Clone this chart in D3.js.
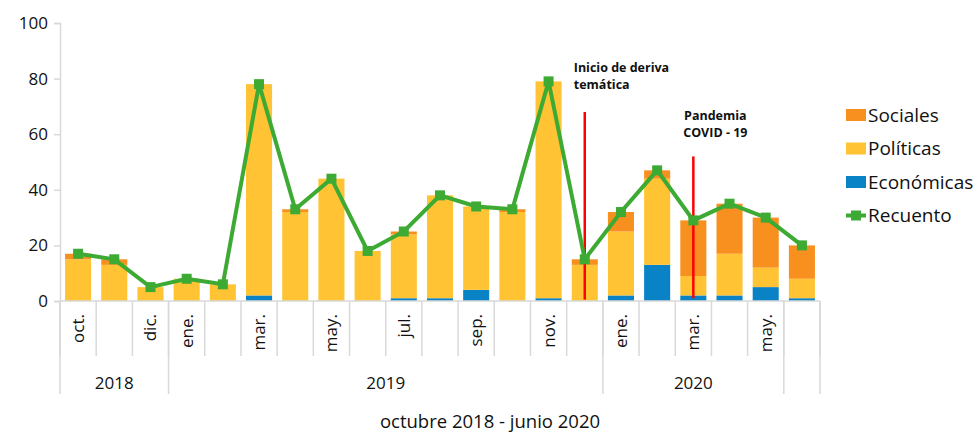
<!DOCTYPE html>
<html>
<head>
<meta charset="utf-8">
<script src="https://cdn.jsdelivr.net/npm/d3@7/dist/d3.min.js"></script>
<style>
  body { margin: 0; background: #fff; }
  svg { display: block; font-family: "Open Sans", "Noto Sans", sans-serif; }
</style>
</head>
<body>
<svg id="chart" width="980" height="432"></svg>
<script>
// ---- data ----
const categories = ["2018-10","2018-11","2018-12","2019-01","2019-02","2019-03","2019-04","2019-05","2019-06","2019-07","2019-08","2019-09","2019-10","2019-11","2019-12","2020-01","2020-02","2020-03","2020-04","2020-05","2020-06"];
const monthLabels = ["oct.","","dic.","ene.","","mar.","","may.","","jul.","","sep.","","nov.","","ene.","","mar.","","may.",""];
const yearLabels = ["2018","2019","2020",""];
const yearCounts = [3, 12, 5, 1];
const economicas = [0,0,0,0,0,2,0,0,0,1,1,4,0,1,0,2,13,2,2,5,1];
const politicas  = [15,13,5,8,6,76,32,44,18,23,37,30,32,78,13,23,31,7,15,7,7];
const sociales   = [2,2,0,0,0,0,1,0,0,1,0,0,1,0,2,7,3,20,18,18,12];
const recuento   = [17,15,5,8,6,78,33,44,18,25,38,34,33,79,15,32,47,29,35,30,20];
const yTicks = [0,20,40,60,80,100];
const seriesNames = ["Económicas","Políticas","Sociales"];
const annotations = [
  {cat: "2019-12", top: 68, bottom: 0.5, lines: ["Inicio de deriva","temática"]},
  {cat: "2020-03", top: 52, bottom: 1, lines: ["Pandemia","COVID - 19"]}
];

// ---- styles ----
const colors = {"Económicas":"#0A82C6","Políticas":"#FFC334","Sociales":"#F7901E"};
const green = "#3DAA34";
const gridGray = "#d9d9d9";

const svg = d3.select("#chart");
const x = d3.scaleBand().domain(categories).range([60, 820]).paddingInner(0.28).paddingOuter(0.14);
const y = d3.scaleLinear().domain([0, 100]).range([301, 23]);

// stacked bars
const rows = categories.map((c, i) => ({cat: c, "Económicas": economicas[i], "Políticas": politicas[i], "Sociales": sociales[i]}));
const stack = d3.stack().keys(seriesNames)(rows);
svg.append("g").selectAll("g").data(stack).join("g")
  .attr("fill", d => colors[d.key])
  .selectAll("rect").data(d => d.filter(p => p[1] - p[0] > 0)).join("rect")
  .attr("x", d => x(d.data.cat))
  .attr("width", x.bandwidth())
  .attr("y", d => y(d[1]))
  .attr("height", d => y(d[0]) - y(d[1]));

// y axis
const yAxis = svg.append("g").attr("transform", "translate(60,0)")
  .call(d3.axisLeft(y).tickValues(yTicks).tickSize(6).tickPadding(6).tickFormat(d3.format("d")));
yAxis.select(".domain").attr("stroke", gridGray).attr("stroke-width", 1.5);
yAxis.selectAll(".tick line").attr("stroke", gridGray).attr("stroke-width", 1.5);
yAxis.selectAll(".tick text").attr("font-size", 17).attr("fill", "#111").attr("font-family", "Open Sans");

// x baseline
svg.append("line").attr("x1", 60).attr("x2", 820).attr("y1", y(0)).attr("y2", y(0))
  .attr("stroke", gridGray).attr("stroke-width", 1.5);

// month separators
const step = x.step();
const bounds = d3.range(categories.length + 1).map(i => 60 + i * step);
svg.append("g").selectAll("line").data(bounds).join("line")
  .attr("x1", d => d).attr("x2", d => d)
  .attr("y1", y(0)).attr("y2", 356)
  .attr("stroke", gridGray).attr("stroke-width", 1.5);

// year separators
const cum = [0];
yearCounts.forEach((c, i) => cum.push(cum[i] + c));
svg.append("g").selectAll("line").data(cum).join("line")
  .attr("x1", d => bounds[d]).attr("x2", d => bounds[d])
  .attr("y1", y(0)).attr("y2", 394)
  .attr("stroke", gridGray).attr("stroke-width", 1.5);

// month labels
svg.append("g").selectAll("text").data(categories).join("text")
  .attr("transform", d => `translate(${x(d) + x.bandwidth() / 2},314) rotate(-90)`)
  .attr("text-anchor", "end").attr("dy", "0.35em")
  .attr("font-size", 17).attr("fill", "#111")
  .text((d, i) => monthLabels[i]);

// year labels
svg.append("g").selectAll("text").data(yearLabels).join("text")
  .attr("x", (d, i) => (bounds[cum[i]] + bounds[cum[i + 1]]) / 2)
  .attr("y", 389).attr("text-anchor", "middle")
  .attr("font-size", 17).attr("fill", "#111")
  .text(d => d);

// title
svg.append("text").attr("x", 490).attr("y", 428).attr("text-anchor", "middle")
  .attr("font-size", 18.5).attr("fill", "#111").text("octubre 2018 - junio 2020");

// red annotation lines
annotations.forEach(a => {
  const cx = x(a.cat) + x.bandwidth() / 2;
  svg.append("line").attr("x1", cx).attr("x2", cx).attr("y1", y(a.top)).attr("y2", y(a.bottom))
    .attr("stroke", "#FF0000").attr("stroke-width", 2.5);
});
// annotation texts
const ann0x = x(annotations[0].cat) + x.bandwidth() / 2 - 11;
svg.append("text").attr("font-size", 12.5).attr("font-weight", "bold").attr("fill", "#111")
  .selectAll("tspan").data(annotations[0].lines).join("tspan")
  .attr("x", ann0x).attr("y", (d, i) => 72 + i * 16.5).text(d => d);
const ann1x = x(annotations[1].cat) + x.bandwidth() / 2 + 22;
svg.append("text").attr("font-size", 12.5).attr("font-weight", "bold").attr("fill", "#111")
  .attr("text-anchor", "middle")
  .selectAll("tspan").data(annotations[1].lines).join("tspan")
  .attr("x", ann1x).attr("y", (d, i) => 120 + i * 16.5).text(d => d);

// recuento line
const line = d3.line().x((d, i) => x(categories[i]) + x.bandwidth() / 2).y(d => y(d));
svg.append("path").datum(recuento).attr("d", line)
  .attr("fill", "none").attr("stroke", green).attr("stroke-width", 4).attr("stroke-linejoin", "miter");
svg.append("g").selectAll("rect").data(recuento).join("rect")
  .attr("x", (d, i) => x(categories[i]) + x.bandwidth() / 2 - 5)
  .attr("y", d => y(d) - 5).attr("width", 10).attr("height", 10).attr("fill", green);

// legend
const legendItems = ["Sociales","Políticas","Económicas","Recuento"];
const lg = svg.append("g");
legendItems.forEach((name, i) => {
  const cy = 115 + i * 33.5;
  if (name === "Recuento") {
    lg.append("line").attr("x1", 846).attr("x2", 866).attr("y1", cy).attr("y2", cy)
      .attr("stroke", green).attr("stroke-width", 4);
    lg.append("rect").attr("x", 851).attr("y", cy - 5).attr("width", 10).attr("height", 10).attr("fill", green);
  } else {
    lg.append("rect").attr("x", 846).attr("y", cy - 6).attr("width", 20).attr("height", 12).attr("fill", colors[name]);
  }
  lg.append("text").attr("x", 868).attr("y", cy).attr("dy", "0.35em")
    .attr("font-size", 19).attr("fill", "#111").text(name);
});
</script>
</body>
</html>
